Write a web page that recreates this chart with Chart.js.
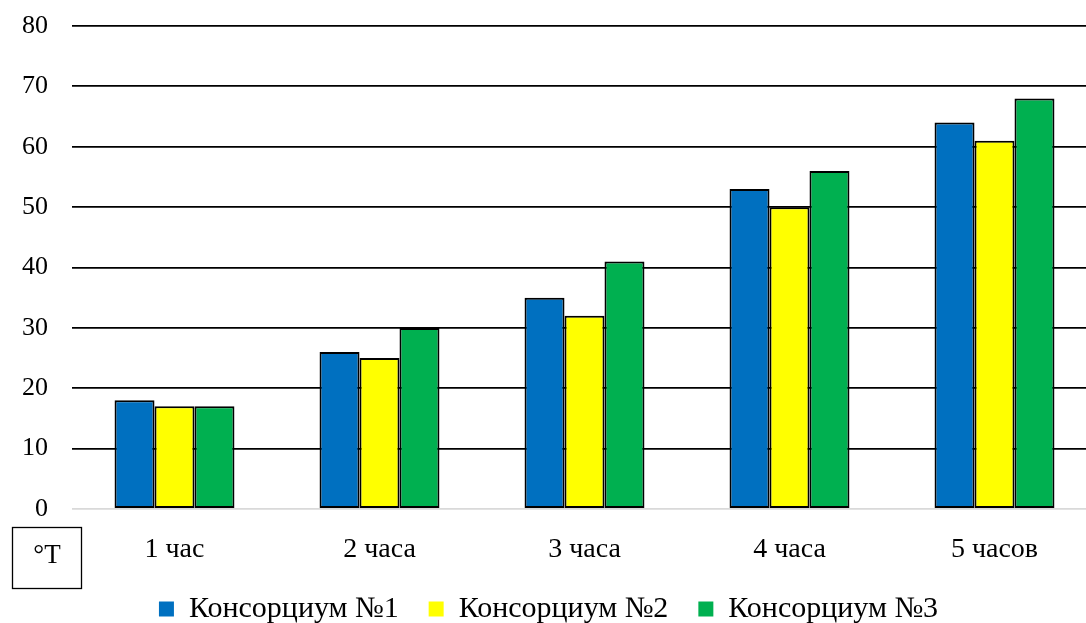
<!DOCTYPE html>
<html>
<head>
<meta charset="utf-8">
<script src="https://cdn.jsdelivr.net/npm/chart.js@4"></script>
<style>
  html, body { margin: 0; padding: 0; background: #fff; overflow: hidden; }
  #wrap { width: 1100px; height: 623px; }
</style>
</head>
<body>
<div id="wrap"><canvas id="c" width="1100" height="623"></canvas></div>
<script>
// Time points and the three consortium series
const categories = ['1 час', '2 часа', '3 часа', '4 часа', '5 часов'];
const seriesNames = ['Консорциум №1', 'Консорциум №2', 'Консорциум №3'];
const consortium1 = [18, 26, 35, 53, 64];
const consortium2 = [17, 25, 32, 50, 61];
const consortium3 = [17, 30, 41, 56, 68];
const yTicks = [0, 10, 20, 30, 40, 50, 60, 70, 80];
const unitLabel = '°T';

const colors = ['#0070C0', '#FFFF00', '#00B050'];
const FONT = '"Liberation Serif", "Times New Roman", serif';
const LEGEND_PAD = 30;
const LEGEND_SIZE = 30;

// Legend takes no layout space; it is laid over the bottom strip.
// Also draws the unit box under the y axis.
const extras = {
  id: 'extras',
  beforeLayout(chart) {
    const lg = chart.legend;
    if (lg && !lg._flat) {
      const fit = lg.fit.bind(lg);
      lg.fit = function () { fit(); this.height = 0; };
      lg._flat = true;
    }
  },
  afterLayout(chart) {
    const lg = chart.legend;
    lg.top = 609 - LEGEND_PAD - LEGEND_SIZE / 2;
    lg.bottom = lg.top + 80;
  },
  afterDraw(chart) {
    const ctx = chart.ctx;
    ctx.save();
    ctx.strokeStyle = '#000';
    ctx.lineWidth = 1.3;
    ctx.strokeRect(12.5, 527.5, 69, 61);
    ctx.fillStyle = '#000';
    ctx.font = '27px ' + FONT;
    ctx.textAlign = 'center';
    ctx.textBaseline = 'middle';
    ctx.fillText(unitLabel, 47, 556);
    ctx.restore();
  }
};

new Chart(document.getElementById('c'), {
  type: 'bar',
  data: {
    labels: categories,
    datasets: [consortium1, consortium2, consortium3].map((d, i) => ({
      label: seriesNames[i],
      data: d,
      backgroundColor: colors[i],
      borderColor: '#000',
      borderWidth: 2,
      borderSkipped: false,
      barPercentage: 1,
      categoryPercentage: 0.585
    }))
  },
  options: {
    responsive: false,
    animation: false,
    devicePixelRatio: 1,
    layout: { padding: { left: 0, right: 3, top: 0, bottom: 0 } },
    plugins: {
      tooltip: { enabled: false },
      legend: {
        position: 'bottom',
        labels: {
          color: '#000',
          font: { family: FONT, size: LEGEND_SIZE },
          boxWidth: 15,
          boxHeight: 15,
          padding: LEGEND_PAD,
          // plain filled squares, no outline
          generateLabels(chart) {
            return Chart.defaults.plugins.legend.labels.generateLabels(chart)
              .map(item => Object.assign(item, { lineWidth: 0, strokeStyle: 'rgba(0,0,0,0)' }));
          }
        }
      }
    },
    scales: {
      x: {
        grid: { display: false, drawTicks: false },
        border: { display: false },
        ticks: { color: '#000', font: { family: FONT, size: 28 }, padding: 24 },
        afterFit(scale) {
          scale.height = scale.chart.height - 509;
        }
      },
      y: {
        min: 0,
        max: 80,
        afterBuildTicks(scale) {
          scale.ticks = yTicks.map(v => ({ value: v }));
        },
        grid: {
          drawTicks: false,
          color: c => (c.tick && c.tick.value === 0 ? '#d9d9d9' : '#000'),
          lineWidth: 1.8
        },
        border: { display: false },
        ticks: { color: '#000', font: { family: FONT, size: 26 }, padding: 24 },
        afterFit(scale) {
          scale.width = 72;
          scale.paddingTop = 26;
          scale.paddingBottom = 20;
        }
      }
    }
  },
  plugins: [extras]
});
</script>
</body>
</html>
